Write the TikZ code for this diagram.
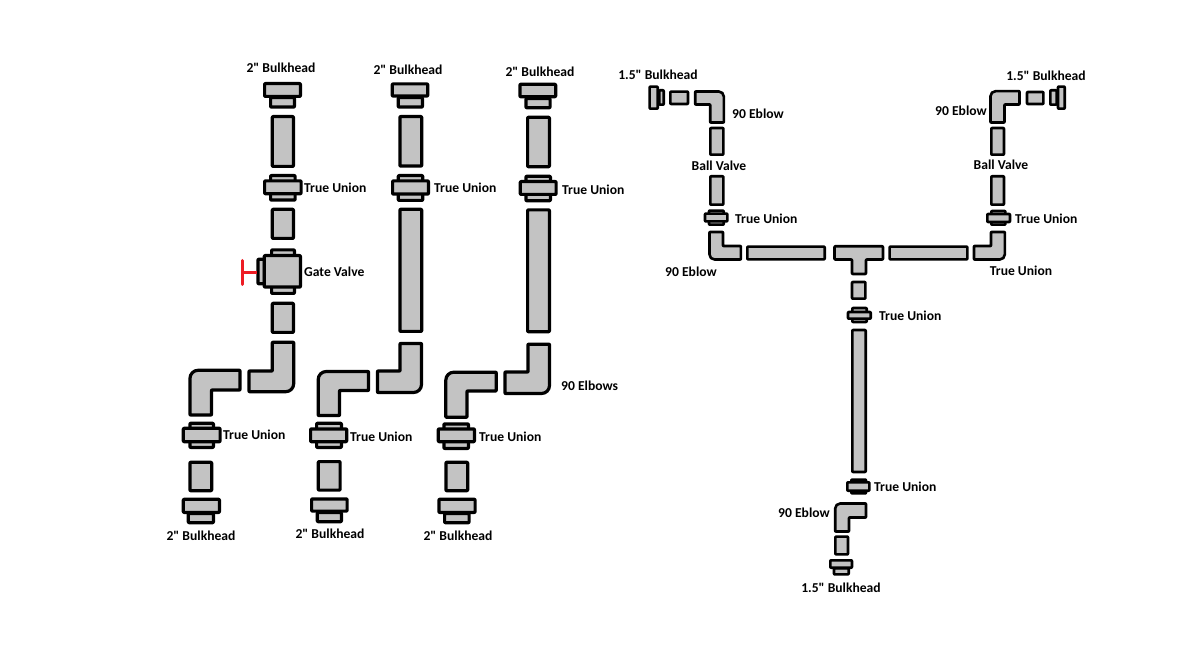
\documentclass[tikz,border=0pt]{standalone}
\usepackage{fontspec}
\newfontfamily\lblfont{Carlito}
\definecolor{pipegray}{HTML}{C3C3C3}
\definecolor{valvered}{HTML}{ED1C24}
\newcommand{\rc}[4]{\draw[part] ({#1+\hw},{#2+\hw}) rectangle ({#3-\hw},{#4-\hw});}
% open x, y of outer run, y of inner run, x of outer run, x of inner run, open y
\newcommand{\elb}[6]{\draw[part] (#1,#2) [rounded corners=\er] -- (#4,#2) [rounded corners=0.5pt] -- (#4,#6) -- (#5,#6) -- (#5,#3) -- (#1,#3) -- cycle;}
\newcommand{\hw}{1.6}
\newcommand{\er}{8pt}
\tikzset{
  part/.style={draw=black,fill=pipegray,line width=3.2pt,rounded corners=0.7pt,line join=round},
  thin part/.style={line width=2.6pt},
  lbl/.style={font=\lblfont\bfseries\fontsize{13.6}{15}\selectfont,text=black,inner sep=0pt,text height=9pt,text depth=2pt,yshift=-1pt},
  lbll/.style={lbl,anchor=west},
}
\begin{document}
\begin{tikzpicture}[x=1pt,y=-1pt]
\useasboundingbox (0,0) rectangle (1200,660);
\fill[white] (0,0) rectangle (1200,660);
% Column 1
\rc{269}{96}{296}{108.7}\rc{263}{82}{302}{98}
\rc{270.7}{115}{295}{168}
\rc{269}{174}{296.7}{201.7}\rc{263}{179.3}{302.7}{195.3}
\rc{270.7}{207.7}{295}{240}
\rc{270}{248.3}{296}{295}
\rc{256.3}{257.7}{266}{285.3}
\rc{262.7}{254}{302}{288.7}
\draw[valvered,line width=3pt,line cap=round] (242,260.5) -- (242,284.5);
\draw[valvered,line width=3pt] (242,272.3) -- (257,272.3);
\rc{270.7}{301.7}{295}{334}
\elb{249}{391.7}{371}{293.7}{272.3}{342.3}
\elb{240}{370.3}{390}{190}{211.5}{415}
\rc{188.3}{421.7}{215}{449}\rc{181.7}{426.7}{221.7}{443.3}
\rc{188.3}{460.7}{213.3}{492.3}
\rc{186.7}{512}{215}{524.3}\rc{181.7}{497.7}{221}{514}
% Column 2
\rc{396.7}{96}{424}{108.7}\rc{390.7}{82.3}{429.3}{97.7}
\rc{398.3}{115}{423.3}{167.7}
\rc{396.7}{174}{424.3}{202}\rc{391}{179.3}{430}{195.7}
\rc{398.3}{207.7}{423.3}{333}
\elb{377.5}{392.5}{371}{421.5}{400}{343.5}
\elb{368.5}{371.5}{390.5}{318.2}{339.5}{415.5}
\rc{315}{421.7}{343}{449}\rc{309}{427.3}{348.3}{443.3}
\rc{316.7}{460}{341.7}{491.7}
\rc{315.7}{511}{343}{523.3}\rc{310}{497.3}{348.7}{512.7}
% Column 3
\rc{524.3}{97}{551.7}{109.3}\rc{518.3}{82.7}{557.3}{98.3}
\rc{526}{115.7}{551}{168.3}
\rc{524.3}{174.7}{552}{202.3}\rc{518.7}{180}{557.7}{196}
\rc{526}{208.3}{551}{333.3}
\elb{505}{393.5}{372}{549.5}{528}{344.2}
\elb{496.2}{372.2}{391}{445.8}{467}{417.2}
\rc{442.3}{422.3}{470}{450}\rc{436.7}{427.3}{476}{443.3}
\rc{444.3}{460.7}{469.3}{492.3}
\rc{443}{512}{470.7}{524.3}\rc{437.3}{497.7}{476.7}{514}
% Right-hand assembly
\begin{scope}[part/.append style={thin part}]
\renewcommand{\hw}{1.3}
\renewcommand{\er}{5pt}
\rc{658}{89}{665}{106}\rc{648.3}{85.3}{659}{110}
\rc{669}{90.3}{689.3}{105.3}
\elb{695.2}{91.5}{104.5}{723.8}{710.2}{122.5}
\rc{709}{126.7}{724.7}{156}
\rc{709}{175}{724.7}{206}
\rc{707.7}{209.3}{725}{226}\rc{703.7}{212.3}{728.7}{222.7}
\elb{740.8}{259.5}{246}{709.5}{723}{232}
\rc{746}{245.3}{826}{260.7}
\draw[part] (834.5,246.3) -- (883,246.3) -- (883,259.5) -- (866,259.5) -- (866,274) -- (852,274) -- (852,259.5) -- (834.5,259.5) -- cycle;
\rc{888.3}{245.3}{968.7}{260.7}
\elb{974}{259.5}{246}{1004.8}{991}{232}
\rc{990}{209.7}{1006.7}{226}\rc{986}{212.7}{1011.3}{223.3}
\rc{990}{175}{1005.3}{206}
\rc{990}{126.7}{1005.3}{156}
\elb{1019.5}{91.2}{104.5}{990.5}{1004.5}{122.5}
\rc{1025.7}{90.7}{1044.7}{105.3}
\rc{1049}{89}{1058}{106}\rc{1056.7}{85.3}{1066}{110}
\rc{850.7}{280.7}{866.7}{300}
\rc{851}{306.7}{868}{323.3}\rc{846.7}{310.7}{872}{320}
\rc{851}{328.7}{867}{473.3}
\rc{850}{478.3}{867.3}{494.7}\rc{846}{481}{870.7}{492}
\elb{866}{503.5}{517.5}{835.2}{849}{531.5}
\rc{834}{535.3}{849.3}{555.7}
\rc{832.7}{567}{850}{575.7}\rc{829}{559}{853.3}{569}
\end{scope}
% Labels
\node[lbl] (b1) at (281,68) {2" Bulkhead};
\node[lbl] (b2) at (408,70) {2" Bulkhead};
\node[lbl] (b3) at (540,72) {2" Bulkhead};
\node[lbll] (u1) at (304,188) {True Union};
\node[lbll] (u2) at (434,188) {True Union};
\node[lbll] (u3) at (562,190) {True Union};
\node[lbll] (gv) at (304,272) {Gate Valve};
\node[lbll] (u4) at (223,435) {True Union};
\node[lbll] (u5) at (350,437) {True Union};
\node[lbll] (u6) at (479,437) {True Union};
\node[lbll] (e90) at (561,386) {90 Elbows};
\node[lbl] (b4) at (201,536) {2" Bulkhead};
\node[lbl] (b5) at (330,534) {2" Bulkhead};
\node[lbl] (b6) at (458,536) {2" Bulkhead};
\node[lbl] (b7) at (658,75) {1.5" Bulkhead};
\node[lbll] (e1) at (732,114) {90 Eblow};
\node[lbl] (bv1) at (719,166) {Ball Valve};
\node[lbll] (u7) at (735,219) {True Union};
\node[lbl] (e2) at (691,272) {90 Eblow};
\node[lbl] (b8) at (1046,76) {1.5" Bulkhead};
\node[lbl] (e3) at (961,111) {90 Eblow};
\node[lbl] (bv2) at (1001,165) {Ball Valve};
\node[lbll] (u8) at (1015,219) {True Union};
\node[lbl] (u9) at (1021,271) {True Union};
\node[lbll] (u10) at (879,316) {True Union};
\node[lbll] (u11) at (874,487) {True Union};
\node[lbl] (e4) at (804,513) {90 Eblow};
\node[lbl] (b9) at (841,588) {1.5" Bulkhead};
\end{tikzpicture}
\end{document}
